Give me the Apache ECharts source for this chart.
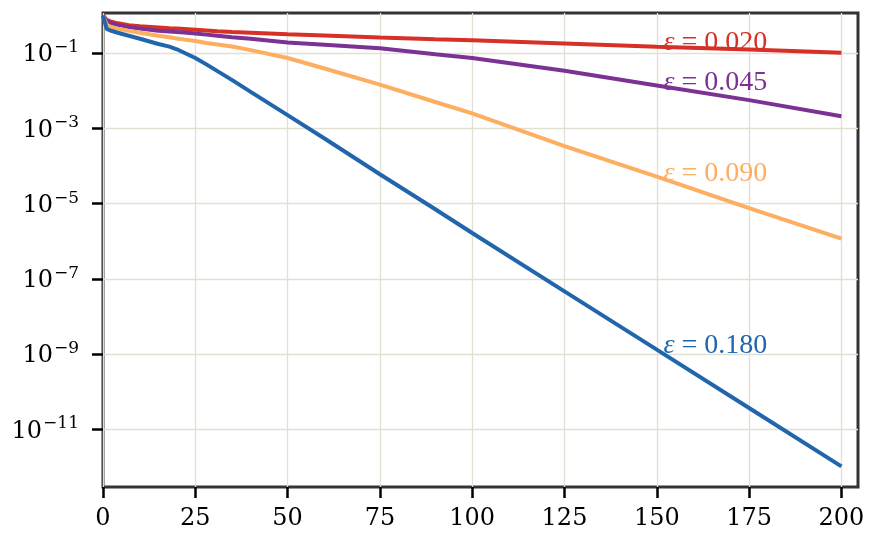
<!DOCTYPE html>
<html>
<head>
<meta charset="utf-8">
<script src="https://cdn.jsdelivr.net/npm/echarts@6/dist/echarts.min.js"></script>
<style>html,body{margin:0;padding:0;background:#fff}#c{width:878px;height:544px}</style>
</head>
<body>
<div id="c"></div>
<script>
// ---- data ----
var xValues = [0, 1, 2, 4, 7, 10, 15, 18, 20, 22, 25, 28, 31, 35, 40, 50, 60, 75, 90, 100, 125, 150, 175, 200];
var eps020 = [1.0, 0.759, 0.692, 0.617, 0.550, 0.513, 0.479, 0.457, 0.447, 0.437, 0.417, 0.398, 0.380, 0.363, 0.347, 0.316, 0.292, 0.260, 0.234, 0.219, 0.180, 0.148, 0.124, 0.102];
var eps045 = [1.0, 0.708, 0.631, 0.562, 0.490, 0.447, 0.389, 0.376, 0.363, 0.351, 0.331, 0.309, 0.288, 0.263, 0.240, 0.191, 0.166, 0.135, 0.0933, 0.0741, 0.0339, 0.0138, 5.62e-3, 2.09e-3];
var eps090 = [1.0, 0.562, 0.501, 0.447, 0.389, 0.347, 0.288, 0.263, 0.245, 0.229, 0.209, 0.186, 0.170, 0.150, 0.120, 0.0741, 0.0389, 0.0145, 5.01e-3, 2.51e-3, 3.39e-4, 5.25e-5, 7.59e-6, 1.17e-6];
var eps180 = [1.0, 0.437, 0.398, 0.347, 0.288, 0.240, 0.174, 0.148, 0.126, 0.102, 0.0741, 0.0501, 0.0331, 0.0191, 9.33e-3, 2.24e-3, 5.37e-4, 6.03e-5, 7.08e-6, 1.66e-6, 4.68e-8, 1.32e-9, 3.72e-11, 1.05e-12];
var seriesNames = ['0.020', '0.045', '0.090', '0.180'];
var seriesColors = ['#d73027', '#7b3294', '#fdae61', '#2166ac'];
var labelX = 151.8;
var labelY = [0.188, 0.0162, 6.46e-5, 1.70e-9];
var xTicks = [0, 25, 50, 75, 100, 125, 150, 175, 200];
var yTicks = [1e-11, 1e-9, 1e-7, 1e-5, 1e-3, 1e-1];
var xMin = 0, xMax = 204.5;
var yMin = 2.97e-13, yMax = 1.16;

var allY = [eps020, eps045, eps090, eps180];

var chart = echarts.init(document.getElementById('c'), null, {renderer: 'canvas'});
var series = allY.map(function (ys, k) {
  return {
    name: seriesNames[k],
    type: 'line',
    showSymbol: false,
    smooth: false,
    data: xValues.map(function (x, i) { return [x, ys[i]]; }),
    lineStyle: {color: seriesColors[k], width: 4},
    itemStyle: {color: seriesColors[k]},
    z: 3 + k,
    markPoint: {
      symbol: 'circle', symbolSize: 0, silent: true,
      data: [{coord: [labelX, labelY[k]]}],
      label: {
        show: true, position: 'right', distance: 0,
        formatter: '{e|ε} = ' + seriesNames[k],
        color: seriesColors[k], fontFamily: 'Liberation Serif', fontSize: 28,
        rich: {e: {fontStyle: 'italic', fontFamily: 'Liberation Serif', fontSize: 28, color: seriesColors[k]}}
      }
    }
  };
});

chart.setOption({
  animation: false,
  backgroundColor: '#ffffff',
  grid: {left: 103, right: 20, top: 13, bottom: 57, show: true, borderColor: '#333333', borderWidth: 3, containLabel: false},
  xAxis: {
    type: 'value', min: xMin, max: xMax, interval: 25,
    axisLine: {show: false},
    axisTick: {show: true, length: 11, lineStyle: {color: '#000', width: 2.5}, customValues: xTicks},
    axisLabel: {color: '#000', fontFamily: 'DejaVu Serif', fontSize: 24, margin: 20, customValues: xTicks},
    splitLine: {show: true, lineStyle: {color: '#e2dfd3', width: 1.3}}
  },
  yAxis: {
    type: 'log', logBase: 10, min: yMin, max: yMax,
    axisLine: {show: false},
    axisTick: {show: true, length: 11, lineStyle: {color: '#000', width: 2.5}, customValues: yTicks},
    axisLabel: {
      color: '#000', fontFamily: 'DejaVu Serif', fontSize: 24, margin: 24, customValues: yTicks,
      formatter: function (v) {
        var p = Math.round(Math.log(v) / Math.LN10);
        return '{b|10}{s|' + (p < 0 ? '\u2212' : '') + Math.abs(p) + '}';
      },
      rich: {
        b: {fontFamily: 'DejaVu Serif', fontSize: 24, color: '#000', verticalAlign: 'bottom'},
        s: {fontFamily: 'DejaVu Serif', fontSize: 17, color: '#000', verticalAlign: 'bottom', padding: [0, 0, 11, 1]}
      }
    },
    splitLine: {show: true, lineStyle: {color: '#e2dfd3', width: 1.3}, customValues: yTicks}
  },
  series: series
});
</script>
</body>
</html>
